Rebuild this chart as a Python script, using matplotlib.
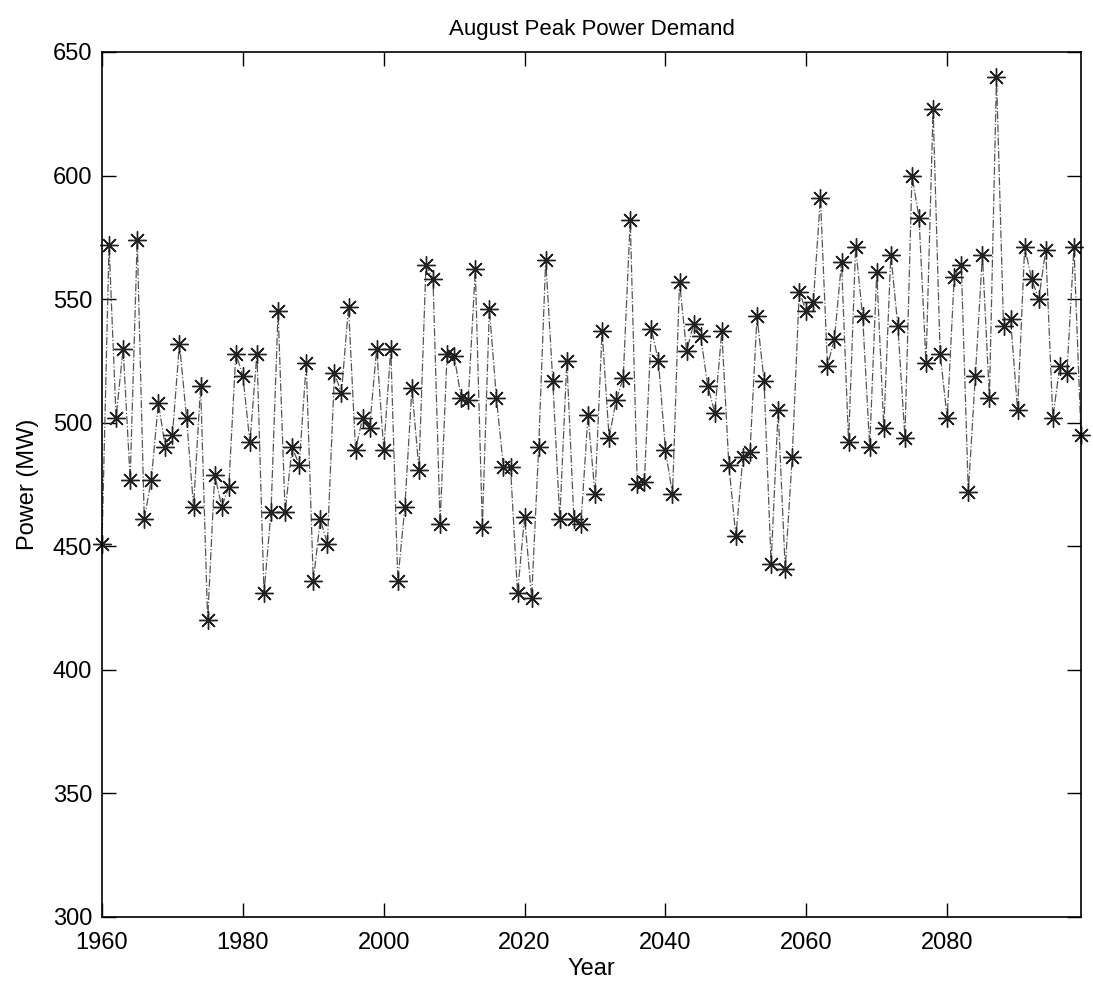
import matplotlib
matplotlib.use("Agg")
import matplotlib.pyplot as plt
import numpy as np

plt.rcParams['font.family'] = ['Liberation Sans', 'DejaVu Sans']

years = list(range(1960, 2100))
power = [
    451, 572, 502, 530, 477, 574, 461, 477, 508, 490,   # 1960-1969
    495, 532, 502, 466, 515, 420, 479, 466, 474, 528,   # 1970-1979
    519, 492, 528, 431, 464, 545, 464, 490, 483, 524,   # 1980-1989
    436, 461, 451, 520, 512, 547, 489, 502, 498, 530,   # 1990-1999
    489, 530, 436, 466, 514, 481, 564, 558, 459, 528,   # 2000-2009
    527, 510, 509, 562, 458, 546, 510, 482, 482, 431,   # 2010-2019
    462, 429, 490, 566, 517, 461, 525, 461, 459, 503,   # 2020-2029
    471, 537, 494, 509, 518, 582, 475, 476, 538, 525,   # 2030-2039
    489, 471, 557, 529, 540, 535, 515, 504, 537, 483,   # 2040-2049
    454, 486, 488, 543, 517, 443, 505, 441, 486, 553,   # 2050-2059
    545, 549, 591, 523, 534, 565, 492, 571, 543, 490,   # 2060-2069
    561, 498, 568, 539, 494, 600, 583, 524, 627, 528,   # 2070-2079
    502, 559, 564, 472, 519, 568, 510, 640, 539, 542,   # 2080-2089
    505, 571, 558, 550, 570, 502, 523, 520, 571, 495,   # 2090-2099
]

xticks = [1960, 1980, 2000, 2020, 2040, 2060, 2080]
yticks = [300, 350, 400, 450, 500, 550, 600, 650]

fig = plt.figure(figsize=(10.93, 9.91), dpi=100)
ax = fig.add_axes([102/1093, 1 - 917/991, (1081 - 102)/1093, (917 - 52)/991])

ax.plot(years, power, linestyle='-.', color='#555555', linewidth=0.9,
        marker=(8, 2, 0), markersize=13, markeredgewidth=1.0,
        markeredgecolor='#222222', markerfacecolor='none', clip_on=False)

ax.set_xlim(1960, 2099)
ax.set_ylim(300, 650)
ax.set_xticks(xticks)
ax.set_yticks(yticks)
ax.tick_params(direction='in', length=10, width=1, top=True, right=True,
               labelsize=17)
ax.tick_params(axis='x', pad=11)
ax.tick_params(axis='y', pad=7)
for s in ax.spines.values():
    s.set_linewidth(1.2)

ax.set_xlabel('Year', fontsize=17, labelpad=3)
ax.set_ylabel('Power (MW)', fontsize=17, labelpad=10)
ax.set_title('August Peak Power Demand', fontsize=16, pad=12)

fig.savefig('out.png', dpi=100, facecolor='white')
